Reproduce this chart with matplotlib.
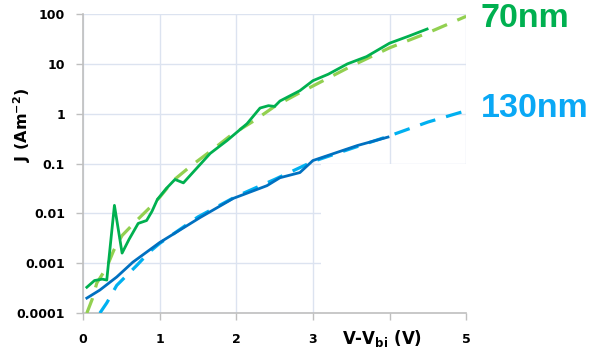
import matplotlib.pyplot as plt
from matplotlib.patches import Rectangle

# Measured J-V curves (solid) and fitted curves (dashed) for two thicknesses
v_70 = [0.05, 0.15, 0.25, 0.31, 0.41, 0.51, 0.6, 0.72, 0.83, 0.9, 0.97, 1.09, 1.2, 1.31,
        1.66, 1.88, 2.14, 2.31, 2.42, 2.5, 2.57, 2.83, 3.0, 3.2, 3.45, 3.7,
        4.0, 4.25, 4.49]
j_70 = [3.3e-4, 4.5e-4, 4.8e-4, 4.6e-4, 0.0145, 0.0016, 0.003, 0.0063, 0.0072, 0.011,
        0.019, 0.032, 0.048, 0.041, 0.16, 0.29, 0.63, 1.3, 1.45, 1.4, 1.8,
        2.9, 4.6, 6.2, 10, 14, 26, 36, 50]

v_70_fit = [0.05, 0.12, 0.18, 0.31, 0.4, 0.51, 0.7, 0.87, 1.0, 1.18, 1.41, 1.67, 1.94,
            2.23, 2.5, 2.8, 3.0, 3.5, 4.0, 4.5, 5.0]
j_70_fit = [1.0e-4, 1.9e-4, 4.0e-4, 8.3e-4, 1.8e-3, 3.6e-3, 7.2e-3, 0.013, 0.021, 0.046,
            0.09, 0.18, 0.38, 0.72, 1.4, 2.5, 3.6, 9, 21, 42, 90]

v_130 = [0.05, 0.22, 0.44, 0.65, 1.0, 1.53, 1.96, 2.4, 2.57, 2.83, 3.0, 3.58, 3.98]
j_130 = [2.0e-4, 2.9e-4, 5.3e-4, 1.05e-3, 2.6e-3, 8.3e-3, 0.02, 0.036, 0.052, 0.066,
         0.115, 0.23, 0.34]

v_130_fit = [0.22, 0.31, 0.44, 0.7, 0.87, 1.0, 1.5, 2.0, 2.5, 3.0, 3.5, 4.0, 4.5, 5.0]
j_130_fit = [1.0e-4, 1.6e-4, 3.6e-4, 9.0e-4, 1.7e-3, 2.5e-3, 8.5e-3, 0.022, 0.048,
             0.11, 0.2, 0.36, 0.68, 1.15]

y_ticks = [0.0001, 0.001, 0.01, 0.1, 1, 10, 100]
y_labels = ["0.0001", "0.001", "0.01", "0.1", "1", "10", "100"]
x_ticks = [0, 1, 2, 3, 4, 5]
x_labels = ["0", "1", "2", "3", "", "5"]

fig = plt.figure(figsize=(5.95, 3.51), dpi=100)
ax = fig.add_axes([0.1395, 0.108, 0.644, 0.852])

ax.set_yscale("log")
ax.set_xlim(0, 5)
ax.set_ylim(1e-4, 100)

ax.plot(v_70_fit, j_70_fit, color="#92D050", lw=2.3, ls=(0, (5, 3.5)), zorder=3)
ax.plot(v_70, j_70, color="#00B050", lw=2.0, zorder=4)
ax.plot(v_130_fit, j_130_fit, color="#00B0F0", lw=2.3, ls=(0, (5, 3.5)), zorder=3)
ax.plot(v_130, j_130, color="#0070C0", lw=2.0, zorder=4)

# grid and axes styling
ax.set_axisbelow(True)
ax.grid(True, which="major", color="#DCE3F0", lw=1.0)
ax.minorticks_off()
for side in ["top", "right"]:
    ax.spines[side].set_visible(False)
for side in ["left", "bottom"]:
    ax.spines[side].set_color("#BFBFBF")
    ax.spines[side].set_linewidth(1.2)
    ax.spines[side].set_zorder(2.5)

ax.set_yticks(y_ticks)
ax.set_yticklabels(y_labels)
ax.set_xticks(x_ticks)
ax.set_xticklabels(x_labels)
ax.tick_params(axis="both", colors="#BFBFBF", labelcolor="black", length=5, width=1.0,
               labelsize=9)
ax.tick_params(axis="x", pad=9)
ax.tick_params(axis="y", pad=8)
for lab in ax.get_xticklabels() + ax.get_yticklabels():
    lab.set_fontweight("bold")

# white panel behind the x axis title
ax.add_patch(Rectangle((3.1, 1e-4), 2.0, 0.1 - 1e-4, facecolor="white",
                       edgecolor="none", zorder=1.5))

fig.text(0.037, 0.645, "J (Am$^{\\mathbf{-2}}$)", rotation=90, fontsize=11.5,
         fontweight="bold", ha="center", va="center")
ax.text(3.9, -0.085, "V-V$_{\\mathbf{bi}}$ (V)", transform=ax.get_xaxis_transform(),
        ha="center", va="center", fontsize=12, fontweight="bold")

fig.text(0.808, 0.948, "70nm", color="#00B050", fontsize=24.5, fontweight="bold",
         family="Liberation Sans", ha="left", va="center")
fig.text(0.808, 0.692, "130nm", color="#0AA8F5", fontsize=24.5, fontweight="bold",
         family="Liberation Sans", ha="left", va="center")

fig.savefig("out.png", dpi=100)
